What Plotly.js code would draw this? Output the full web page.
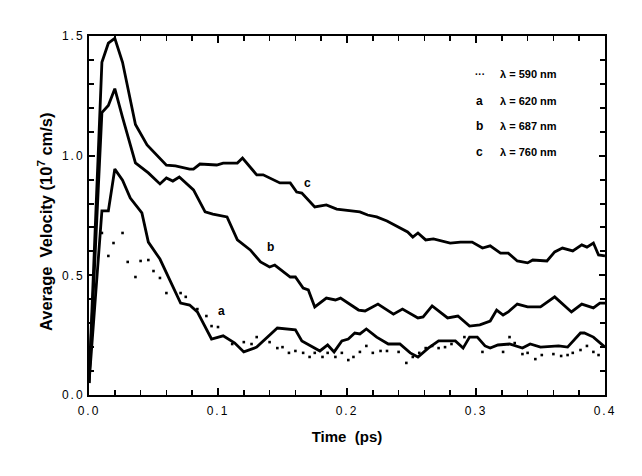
<!DOCTYPE html>
<html>
<head>
<meta charset="utf-8">
<script src="https://cdn.plot.ly/plotly-3.0.1.min.js"></script>
<style>
html,body{margin:0;padding:0;background:#fff;}
#chart{width:642px;height:476px;}
.xtick text,.ytick text{letter-spacing:2px;}
</style>
</head>
<body>
<div id="chart"></div>
<script>
// Time (ps) and average velocity (1e7 cm/s)
const tC = [0,0.010,0.015,0.020,0.026,0.036,0.045,0.060,0.067,0.078,0.081,0.086,0.099,0.104,0.115,0.119,0.130,0.135,0.148,0.156,0.161,0.165,0.175,0.184,0.192,0.210,0.216,0.223,0.231,0.247,0.251,0.255,0.261,0.267,0.280,0.288,0.297,0.305,0.311,0.319,0.325,0.332,0.340,0.344,0.355,0.361,0.367,0.375,0.382,0.386,0.391,0.395,0.400];
const vC = [0.05,1.39,1.47,1.49,1.39,1.13,1.045,0.96,0.957,0.944,0.944,0.965,0.961,0.969,0.969,0.99,0.92,0.92,0.886,0.886,0.848,0.844,0.786,0.794,0.777,0.765,0.752,0.744,0.727,0.681,0.66,0.677,0.648,0.652,0.635,0.639,0.639,0.614,0.623,0.593,0.593,0.56,0.552,0.564,0.56,0.598,0.614,0.602,0.627,0.618,0.635,0.585,0.581];

const tB = [0,0.010,0.015,0.020,0.026,0.036,0.046,0.055,0.060,0.065,0.070,0.081,0.090,0.096,0.107,0.115,0.125,0.133,0.140,0.144,0.156,0.160,0.166,0.170,0.175,0.184,0.191,0.195,0.209,0.214,0.224,0.236,0.243,0.255,0.259,0.266,0.278,0.286,0.295,0.303,0.311,0.316,0.321,0.325,0.332,0.340,0.350,0.359,0.361,0.374,0.382,0.391,0.396,0.400];
const vB = [0.05,1.18,1.21,1.28,1.16,0.97,0.928,0.882,0.907,0.894,0.911,0.857,0.765,0.756,0.744,0.648,0.606,0.556,0.535,0.543,0.493,0.493,0.447,0.439,0.368,0.405,0.397,0.405,0.355,0.351,0.38,0.338,0.359,0.322,0.326,0.372,0.322,0.330,0.288,0.293,0.309,0.355,0.334,0.347,0.38,0.368,0.368,0.405,0.41,0.347,0.38,0.364,0.384,0.384];

const tA = [0,0.010,0.015,0.020,0.026,0.032,0.041,0.046,0.055,0.071,0.078,0.084,0.095,0.104,0.113,0.120,0.130,0.140,0.146,0.160,0.165,0.179,0.185,0.190,0.196,0.201,0.206,0.210,0.215,0.223,0.232,0.241,0.249,0.255,0.263,0.271,0.284,0.290,0.295,0.301,0.307,0.311,0.317,0.326,0.336,0.342,0.350,0.364,0.371,0.381,0.384,0.391,0.400];
const vA = [0.05,0.769,0.769,0.944,0.898,0.823,0.761,0.639,0.568,0.384,0.376,0.347,0.234,0.247,0.217,0.180,0.2,0.251,0.28,0.272,0.226,0.184,0.209,0.18,0.226,0.234,0.259,0.255,0.276,0.242,0.213,0.213,0.176,0.159,0.196,0.226,0.226,0.196,0.242,0.242,0.205,0.196,0.209,0.213,0.196,0.213,0.2,0.205,0.2,0.259,0.259,0.242,0.2];

const tD = [0.010,0.015,0.019,0.026,0.030,0.036,0.040,0.046,0.050,0.055,0.060,0.071,0.075,0.084,0.091,0.095,0.100,0.111,0.120,0.126,0.130,0.140,0.146,0.150,0.155,0.160,0.166,0.171,0.175,0.181,0.185,0.191,0.196,0.201,0.205,0.210,0.215,0.220,0.226,0.231,0.240,0.246,0.251,0.256,0.261,0.266,0.271,0.276,0.281,0.291,0.305,0.321,0.326,0.330,0.336,0.340,0.346,0.351,0.360,0.366,0.371,0.375,0.381,0.386,0.391,0.395];
const vD = [0.677,0.581,0.635,0.677,0.556,0.493,0.56,0.564,0.518,0.489,0.426,0.426,0.41,0.359,0.33,0.288,0.284,0.213,0.221,0.213,0.242,0.221,0.196,0.2,0.176,0.184,0.176,0.159,0.176,0.159,0.176,0.159,0.176,0.146,0.159,0.18,0.205,0.176,0.184,0.184,0.18,0.134,0.159,0.176,0.196,0.205,0.196,0.2,0.213,0.242,0.18,0.18,0.242,0.217,0.171,0.176,0.15,0.167,0.171,0.163,0.167,0.176,0.188,0.205,0.18,0.167];

const curveLabels = ['a','b','c'];
const curveLabelPos = [[0.103,0.35],[0.141,0.62],[0.169,0.885]];
const legendMarks = ['···','a','b','c'];
const legendTexts = ['λ = 590 nm','λ = 620 nm','λ = 687 nm','λ = 760 nm'];
const legendY = [1.34,1.23,1.125,1.015];
const xTickVals = [0,0.1,0.2,0.3,0.4];
const xTickText = ['0.0','0.1','0.2','0.3','0.4'];
const yTickVals = [0,0.5,1.0,1.5];
const yTickText = ['0.0','0.5','1.0','1.5'];
const xTitle = 'Time  (ps)';
const yTitle = 'Average  Velocity (10<sup>7</sup> cm/s)';

const lineStyle = {color:'#000', width:2.8};
const traces = [
  {x:tC, y:vC, mode:'lines', line:lineStyle},
  {x:tB, y:vB, mode:'lines', line:lineStyle},
  {x:tA, y:vA, mode:'lines', line:lineStyle},
  {x:tD, y:vD, mode:'markers', marker:{symbol:'square', size:2.6, color:'#000'}}
];

const annotations = [];
curveLabels.forEach((s,i)=>annotations.push({x:curveLabelPos[i][0], y:curveLabelPos[i][1], text:s, showarrow:false, font:{family:'Liberation Sans, Arial', size:12, color:'#000', weight:'bold'}}));
legendMarks.forEach((s,i)=>{
  annotations.push({x:0.303, y:legendY[i], text:s, showarrow:false, xanchor:'center', font:{family:'Liberation Sans, Arial', size: i===0?10:12, color:'#000', weight:'bold'}});
  annotations.push({x:0.317, y:legendY[i], text:legendTexts[i], showarrow:false, xanchor:'left', font:{family:'Liberation Sans, Arial', size:11, color:'#000', weight:'bold'}});
});
annotations.push({xref:'paper', yref:'paper', x:-0.085, y:0.482, text:'<b>'+yTitle+'</b>', textangle:-90, showarrow:false, xanchor:'center', yanchor:'middle', font:{family:'Liberation Sans, Arial', size:16.5, color:'#000'}});

const layout = {
  width:642, height:476,
  margin:{l:89, r:37, t:36, b:81},
  paper_bgcolor:'#fff', plot_bgcolor:'#fff',
  showlegend:false,
  font:{family:'Liberation Sans, Arial', color:'#000'},
  xaxis:{range:[0,0.4], tickvals:xTickVals, ticktext:xTickText, ticks:'inside', ticklen:7, tickwidth:2.5, tickcolor:'#000',
    minor:{dtick:0.02, ticks:'inside', ticklen:5, tickwidth:1.5, tickcolor:'#000', showgrid:false},
    showline:true, linecolor:'#000', linewidth:2, mirror:'ticks', showgrid:false, zeroline:false,
    tickfont:{size:12, color:'#000'}, ticklabelstandoff:4,
    title:{text:'<b>'+xTitle+'</b>', font:{size:15, color:'#000'}, standoff:14}},
  yaxis:{range:[0,1.5], tickvals:yTickVals, ticktext:yTickText, ticks:'inside', ticklen:6, tickwidth:2, tickcolor:'#000',
    minor:{dtick:0.1, ticks:'inside', ticklen:5, tickwidth:2, tickcolor:'#000', showgrid:false},
    showline:true, linecolor:'#000', linewidth:2, mirror:'ticks', showgrid:false, zeroline:false,
    tickfont:{size:12, color:'#000'}},
  annotations:annotations
};

Plotly.newPlot('chart', traces, layout, {displayModeBar:false, staticPlot:true});
</script>
</body>
</html>
